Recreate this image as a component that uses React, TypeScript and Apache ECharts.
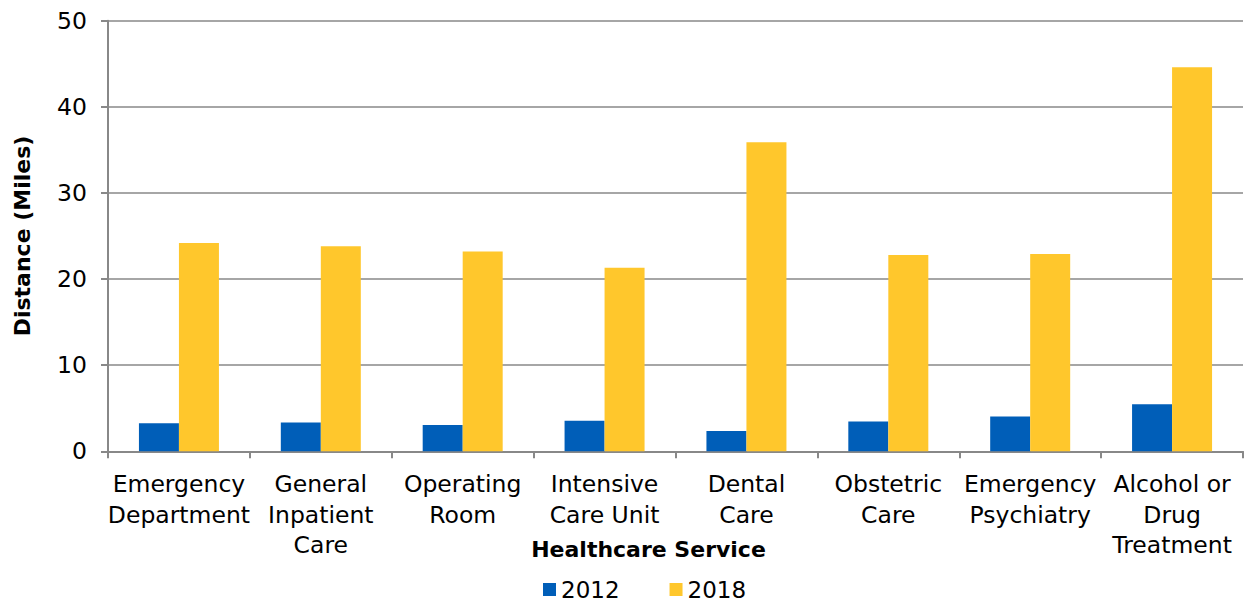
import React, { useEffect, useRef } from "react";
import * as echarts from "echarts";

const categories = [
  "Emergency\nDepartment",
  "General\nInpatient\nCare",
  "Operating\nRoom",
  "Intensive\nCare Unit",
  "Dental\nCare",
  "Obstetric\nCare",
  "Emergency\nPsychiatry",
  "Alcohol or\nDrug\nTreatment",
];
const values2012 = [3.25, 3.35, 3.05, 3.55, 2.35, 3.45, 4.05, 5.45];
const values2018 = [24.2, 23.8, 23.2, 21.3, 35.9, 22.8, 22.9, 44.6];
const seriesNames = ["2012", "2018"];

const FONT = "'DejaVu Sans', 'Liberation Sans', Arial, sans-serif";

export default function App() {
  const ref = useRef<HTMLDivElement>(null);
  useEffect(() => {
    if (!ref.current) return;
    const chart = echarts.init(ref.current, undefined, { renderer: "svg" });
    chart.setOption({
      animation: false,
      backgroundColor: "#ffffff",
      textStyle: { fontFamily: FONT },
      grid: { left: 108, right: 1, top: 20.7, bottom: 151.7, containLabel: false },
      legend: {
        data: seriesNames,
        left: 543,
        top: 578,
        padding: 0,
        itemWidth: 13,
        itemHeight: 13,
        itemGap: 50,
        icon: "rect",
        textStyle: { fontSize: 23, lineHeight: 22, color: "#000", fontFamily: FONT },
      },
      xAxis: {
        type: "category",
        data: categories,
        name: "Healthcare Service",
        nameLocation: "middle",
        nameGap: 87,
        nameMoveOverlap: false,
        nameTextStyle: {
          fontSize: 22,
          fontWeight: "bold",
          color: "#000",
          fontFamily: FONT,
          padding: [0, 54, 0, 0],
        },
        axisLine: { lineStyle: { color: "#888", width: 2 } },
        axisTick: { show: true, length: 7, lineStyle: { color: "#888", width: 2 } },
        axisLabel: {
          interval: 0,
          fontSize: 23.5,
          lineHeight: 30.5,
          color: "#000",
          margin: 17.5,
          fontFamily: FONT,
        },
      },
      yAxis: {
        type: "value",
        min: 0,
        max: 50,
        interval: 10,
        name: "Distance (Miles)",
        nameLocation: "middle",
        nameGap: 75,
        nameMoveOverlap: false,
        nameTextStyle: { fontSize: 22, fontWeight: "bold", color: "#000", fontFamily: FONT },
        axisLine: { show: true, lineStyle: { color: "#888", width: 2 } },
        axisTick: { show: true, length: 7, lineStyle: { color: "#888", width: 2 } },
        splitLine: { lineStyle: { color: "#888", width: 1.5 } },
        axisLabel: { fontSize: 23.5, color: "#000", margin: 21, fontFamily: FONT },
      },
      series: [
        {
          name: seriesNames[0],
          type: "bar",
          data: values2012,
          barWidth: 40,
          barGap: "0%",
          itemStyle: { color: "#005EB8" },
        },
        {
          name: seriesNames[1],
          type: "bar",
          data: values2018,
          barWidth: 40,
          barGap: "0%",
          itemStyle: { color: "#FFC72C" },
        },
      ],
    });
    return () => chart.dispose();
  }, []);
  return (
    <div
      ref={ref}
      style={{ position: "fixed", left: 0, top: 0, width: 1244, height: 603 }}
    />
  );
}
